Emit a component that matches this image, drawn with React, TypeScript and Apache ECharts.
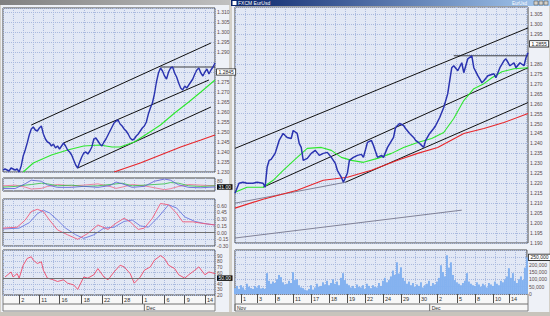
import React, { useEffect, useRef } from "react";
import * as echarts from "echarts";

// ---------- LEFT WINDOW DATA ----------
const LEFT_PRICE = [
  1.2310, 1.2315, 1.2310, 1.2305, 1.2320, 1.2315, 1.2310, 1.2315, 1.2300, 1.2330,
  1.2380, 1.2410, 1.2445, 1.2485, 1.2515, 1.2525, 1.2510, 1.2505, 1.2520, 1.2530,
  1.2490, 1.2465, 1.2450, 1.2445, 1.2430, 1.2440, 1.2420, 1.2430, 1.2415, 1.2430,
  1.2445, 1.2430, 1.2410, 1.2400, 1.2385, 1.2360, 1.2335, 1.2320, 1.2350, 1.2375,
  1.2395, 1.2400, 1.2390, 1.2405, 1.2425, 1.2465, 1.2470, 1.2455, 1.2440, 1.2430,
  1.2450, 1.2465, 1.2485, 1.2505, 1.2525, 1.2545, 1.2555, 1.2560, 1.2540, 1.2530,
  1.2515, 1.2505, 1.2490, 1.2470, 1.2460, 1.2465, 1.2480, 1.2490, 1.2505, 1.2520,
  1.2530, 1.2550, 1.2590, 1.2620, 1.2645, 1.2690, 1.2750, 1.2795, 1.2820, 1.2805,
  1.2780, 1.2765, 1.2800, 1.2820, 1.2825, 1.2795, 1.2775, 1.2745, 1.2720, 1.2710,
  1.2730, 1.2720, 1.2735, 1.2750, 1.2765, 1.2790, 1.2810, 1.2820, 1.2795, 1.2780,
  1.2800, 1.2815, 1.2790, 1.2810, 1.2825, 1.2845,
];
const LEFT_MA_FAST = [
  [10, 1.2300], [15, 1.2345], [24, 1.2385], [32, 1.2410], [40, 1.2430], [48, 1.2435],
  [54, 1.2425], [58, 1.2425], [65, 1.2450], [72, 1.2495], [78, 1.2535], [85, 1.2595],
  [92, 1.2650], [98, 1.2700], [105, 1.2760],
];
const LEFT_MA_SLOW = [[55, 1.2300], [68, 1.2345], [78, 1.2385], [88, 1.2425], [98, 1.2460], [105, 1.2485]];
const LEFT_CH_UPPER = [[14, 1.2535], [103, 1.2945]];
const LEFT_CH_MIDDLE = [[30, 1.2445], [102, 1.2760]];
const LEFT_CH_LOWER = [[37, 1.2320], [103, 1.2625]];
const LEFT_RESIST = [[78, 1.2825], [105, 1.2825]];

const OSC_IDX = [0, 6, 11, 14, 19, 22, 27, 34, 40, 47, 53, 56, 59, 64, 70, 75, 80, 83, 87, 92, 98, 105];
const OSC_BLUE = [19, 19, 56, 83, 75, 47, 28, 28, 36, 28, 42, 69, 56, 28, 36, 75, 92, 83, 47, 28, 25, 31];
const OSC_RED = [40, 45, 30, 15, 20, 35, 50, 40, 45, 55, 35, 20, 30, 50, 40, 25, 10, 18, 35, 50, 45, 40];
const OSC_GREEN = [30, 35, 45, 50, 60, 55, 40, 45, 35, 40, 50, 55, 60, 40, 45, 50, 55, 65, 60, 40, 35, 40];

const MACD_IDX = [0, 7, 11, 14, 17, 20, 23, 27, 32, 37, 42, 47, 52, 56, 60, 63, 67, 70, 74, 78, 82, 86, 89, 94, 98, 105];
const MACD_LINE = [0.10, 0.12, 0.28, 0.47, 0.52, 0.47, 0.28, 0.06, -0.05, -0.15, -0.02, 0.17, 0.07, 0.21, 0.32, 0.24, 0.07, 0.10, 0.32, 0.65, 0.62, 0.43, 0.24, 0.24, 0.21, 0.17];
const SIGNAL_IDX = [0, 8, 13, 17, 20, 23, 27, 31, 36, 40, 45, 50, 55, 60, 64, 68, 72, 77, 82, 86, 90, 95, 100, 105];
const SIGNAL_LINE = [0.08, 0.10, 0.22, 0.42, 0.50, 0.44, 0.28, 0.10, -0.05, -0.13, -0.05, 0.10, 0.12, 0.25, 0.28, 0.15, 0.12, 0.35, 0.62, 0.55, 0.35, 0.25, 0.20, 0.17];

const RSI_IDX = [1, 4, 5, 7, 8, 10, 12, 14, 15, 17, 19, 20, 22, 25, 27, 30, 32, 35, 37, 40, 42, 45, 47, 50, 52, 55, 58, 60, 63, 65, 68, 70, 73, 75, 78, 80, 82, 85, 87, 90, 92, 95, 97, 100, 102, 105];
const RSI_VALUES = [52, 61, 52, 58, 50, 73, 85, 88, 82, 76, 79, 64, 50, 47, 44, 47, 41, 38, 30, 52, 50, 56, 67, 52, 47, 61, 73, 70, 58, 41, 52, 64, 70, 82, 90, 85, 73, 67, 56, 50, 56, 64, 70, 56, 61, 58];
const RSI_LEVEL = 50;

const LEFT_TICK_IDX = [8, 18, 28, 39, 49, 59, 69, 80, 90, 100];
const LEFT_TICK_LABELS = ["2", "11", "16", "18", "22", "28", "1", "6", "9", "14"];
const LEFT_MONTHS = [{ idx: 70, label: "Dec" }];

// ---------- RIGHT WINDOW DATA ----------
const RIGHT_PRICE_IDX = [
  0, 2, 4, 6, 9, 11, 14, 15, 16, 17, 18, 20, 22, 24, 25, 26, 28, 29, 31, 32,
  33, 34, 36, 38, 40, 42, 44, 46, 48, 50, 51, 53, 54, 56, 57, 59, 61, 63, 64, 66,
  68, 69, 71, 73, 74, 76, 79, 80, 82, 84, 85, 87, 89, 90, 92, 94, 95, 97, 99, 100,
  102, 104, 105, 106, 107, 108, 109, 111, 113, 114, 116, 118, 119, 121, 123, 124, 126, 129, 130, 132,
  134, 135, 137, 139, 140, 142, 144, 145, 146,
];
const RIGHT_PRICE = [
  1.2150, 1.2200, 1.2205, 1.2200, 1.2200, 1.2205, 1.2200, 1.2180, 1.2280, 1.2315,
  1.2320, 1.2350, 1.2415, 1.2450, 1.2440, 1.2430, 1.2425, 1.2465, 1.2450, 1.2400,
  1.2380, 1.2315, 1.2325, 1.2350, 1.2365, 1.2340, 1.2350, 1.2355, 1.2330, 1.2300,
  1.2265, 1.2230, 1.2205, 1.2250, 1.2315, 1.2330, 1.2340, 1.2345, 1.2330, 1.2405,
  1.2415, 1.2390, 1.2330, 1.2340, 1.2330, 1.2380, 1.2430, 1.2480, 1.2500, 1.2490,
  1.2475, 1.2450, 1.2430, 1.2415, 1.2400, 1.2380, 1.2415, 1.2450, 1.2475, 1.2490,
  1.2530, 1.2580, 1.2615, 1.2650, 1.2715, 1.2780, 1.2790, 1.2765, 1.2805, 1.2755,
  1.2825, 1.2840, 1.2780, 1.2740, 1.2705, 1.2715, 1.2740, 1.2750, 1.2730, 1.2780,
  1.2815, 1.2825, 1.2790, 1.2805, 1.2780, 1.2805, 1.2790, 1.2830, 1.2855,
];
const RIGHT_MA_FAST = [
  [0, 1.2155], [6, 1.2180], [14, 1.2180], [19, 1.2215], [24, 1.2265], [31, 1.2330], [36, 1.2375],
  [43, 1.2380], [48, 1.2365], [53, 1.2330], [58, 1.2315], [64, 1.2305], [71, 1.2325], [78, 1.2350],
  [84, 1.2380], [91, 1.2405], [98, 1.2425], [104, 1.2455], [109, 1.2525], [114, 1.2615], [119, 1.2675],
  [124, 1.2700], [128, 1.2730], [133, 1.2760], [139, 1.2775], [146, 1.2780],
];
const RIGHT_MA_SLOW = [
  [0, 1.2075], [14, 1.2120], [31, 1.2165], [44, 1.2215], [56, 1.2230], [68, 1.2265], [81, 1.2315],
  [91, 1.2350], [101, 1.2380], [114, 1.2450], [124, 1.2475], [134, 1.2505], [146, 1.2550],
];
const RIGHT_CH_UPPER = [[0, 1.2375], [146, 1.2980]];
const RIGHT_CH_MIDDLE = [[14, 1.2180], [146, 1.2780]];
const RIGHT_CH_LOWER = [[55, 1.2205], [146, 1.2605]];
const RIGHT_RESIST = [[109, 1.2840], [146, 1.2840]];
const RIGHT_GRAY_LONG = [[0, 1.1925], [113, 1.2065]];
const RIGHT_GRAY_SHORT = [[0, 1.2100], [55, 1.2205]];

// volume in thousands
const VOLUME = [
  40, 55, 35, 60, 45, 30, 70, 50, 40, 35, 55, 45, 60, 38, 42,
  35, 142, 90, 70, 85, 75, 100, 130, 115, 80, 65, 70, 90, 75, 149, 95, 100, 60, 45, 40,
  30, 25, 35, 60, 30, 45, 70, 50, 55, 80, 65, 90, 60, 75, 100, 70, 85, 60, 110, 142,
  95, 70, 60, 45, 55, 40, 65, 50, 45, 60, 35, 70, 55, 40, 60, 50, 45, 75, 55, 90,
  110, 80, 95, 120, 160, 130, 216, 140, 182, 110, 90, 70, 85, 60, 75, 50, 65, 55, 80, 45,
  60, 70, 90, 55, 75, 65, 85, 110, 196, 150, 120, 264, 180, 216, 130, 95, 80, 70, 60, 75,
  90, 142, 85, 70, 60, 55, 80, 65, 50, 70, 60, 45, 75, 65, 55, 85, 70, 60, 90, 80,
  100, 120, 176, 110, 142, 90, 75, 100, 120, 95, 180, 250,
];

const RIGHT_TICK_IDX = [3, 11, 20, 29, 38, 47, 56, 65, 74, 83, 92, 101, 111, 120, 129, 137];
const RIGHT_TICK_LABELS = ["1", "3", "8", "11", "17", "18", "19", "22", "24", "29", "30", "2", "5", "8", "10", "14"];
const RIGHT_MONTHS = [{ idx: 0, label: "Nov" }, { idx: 97, label: "Dec" }];

const FONT = "Liberation Sans";
const GRID_BG = "#e2e8f5";
const LBL = "#5a4848";

const pairs = (idx: number[], vals: number[]) => idx.map((i, k) => [i, vals[k]]);

export default function App() {
  const ref = useRef<HTMLDivElement>(null);
  useEffect(() => {
    const el = ref.current!;
    const chart = echarts.init(el, null, { renderer: "svg" });
    const NL = LEFT_PRICE.length;
    const NR = VOLUME.length;
    const catL = Array.from({ length: NL }, (_, i) => "L" + i);
    const catR = Array.from({ length: NR }, (_, i) => "R" + i);
    const mapL: Record<number, string> = {};
    LEFT_TICK_IDX.forEach((i, k) => (mapL[i] = LEFT_TICK_LABELS[k]));
    const mapR: Record<number, string> = {};
    RIGHT_TICK_IDX.forEach((i, k) => (mapR[i] = RIGHT_TICK_LABELS[k]));

    const lastL = LEFT_PRICE[NL - 1];
    const lastR = RIGHT_PRICE[RIGHT_PRICE.length - 1];
    const lastOsc = OSC_BLUE[OSC_BLUE.length - 1];
    const lastVol = VOLUME[NR - 1];

    const split = (color = "#a9b9de") => ({ show: true, lineStyle: { color, type: "dotted" as const, width: 1 } });

    const plainX = (gridIndex: number, data: string[]) => ({
      type: "category" as const, gridIndex, data, boundaryGap: false,
      axisLine: { show: false }, axisTick: { show: false }, axisLabel: { show: false },
      splitLine: { ...split(), interval: 4 },
    });
    const dateX = (gridIndex: number, data: string[], map: Record<number, string>) => ({
      type: "category" as const, gridIndex, data, boundaryGap: false,
      axisLine: { show: false },
      axisTick: { show: true, interval: (i: number) => map[i] !== undefined, length: 9, lineStyle: { color: "#505050" } },
      axisLabel: {
        show: true, interval: (i: number) => map[i] !== undefined,
        formatter: (_v: string, i: number) => map[i] ?? "",
        fontSize: 5.5, fontFamily: FONT, color: "#303030", align: "left" as const, padding: [0, 0, 0, 2], margin: 2,
      },
      splitLine: { ...split(), interval: 4 },
    });
    const yAx = (gridIndex: number, min: number, max: number, interval: number, fmt: (v: number) => string, extra: any = {}) => ({
      type: "value" as const, gridIndex, position: "right" as const, min, max, interval,
      axisLine: { show: false }, axisTick: { show: false },
      axisLabel: { fontSize: 5, fontFamily: FONT, color: LBL, margin: 2, showMaxLabel: false, formatter: fmt },
      splitLine: split(),
      ...extra,
    });

    const boxLabel = (value: number, text: string, dark: boolean) => ({
      symbol: "none", silent: true,
      lineStyle: { color: "rgba(0,0,0,0)", width: 0 },
      data: [{ yAxis: value }],
      label: {
        show: true, position: "end", distance: 2, formatter: text, fontSize: 5, fontFamily: FONT,
        color: dark ? "#ffffff" : "#202020", backgroundColor: dark ? "#101010" : "#ffffff",
        borderColor: "#202020", borderWidth: dark ? 0 : 0.8, padding: [0.5, 1.5, 0, 1.5],
      },
    });

    const line = (name: string, data: any[], x: number, y: number, color: string, width = 1, extra: any = {}) => ({
      name, type: "line" as const, xAxisIndex: x, yAxisIndex: y, data, symbol: "none",
      lineStyle: { color, width }, itemStyle: { color }, silent: true, z: 3, ...extra,
    });

    const option: any = {
      animation: false,
      backgroundColor: "#d4d0c8",
      textStyle: { fontFamily: FONT },
      grid: [
        { left: 3, top: 8, width: 212, height: 164 },
        { left: 3, top: 178, width: 212, height: 13 },
        { left: 3, top: 199, width: 212, height: 47 },
        { left: 3, top: 250, width: 212, height: 45 },
        { left: 235, top: 7, width: 293, height: 236 },
        { left: 235, top: 250, width: 293, height: 44 },
      ].map((g) => ({ ...g, show: true, backgroundColor: GRID_BG, borderColor: "#4a4a4a", borderWidth: 1 })),
      xAxis: [
        plainX(0, catL), plainX(1, catL), plainX(2, catL), dateX(3, catL, mapL),
        plainX(4, catR), dateX(5, catR, mapR),
      ],
      yAxis: [
        yAx(0, 1.23, 1.312, 0.005, (v) => (Math.abs(v - lastL) < 0.0051 ? "" : v.toFixed(3))),
        yAx(1, 0, 100, 20, (v) => (v === 80 ? "80" : ""), { splitLine: { show: false } }),
        yAx(2, -0.3, 0.75, 0.15, (v) => v.toFixed(2)),
        yAx(3, 20, 100, 10, (v) => (Math.abs(v - RSI_LEVEL) < 5 ? "" : String(Math.round(v)))),
        yAx(4, 1.19, 1.3085, 0.005, (v) => (Math.abs(v - lastR) < 0.0051 ? "" : v.toFixed(3))),
        yAx(5, 0, 300, 50, (v) => (Math.abs(v - lastVol) < 30 ? "" : v === 0 ? "0" : v + ",000")),
      ],
      series: [
        // left price pane
        line("Upper channel L", LEFT_CH_UPPER, 0, 0, "#111111", 1),
        line("Middle channel L", LEFT_CH_MIDDLE, 0, 0, "#111111", 1),
        line("Lower channel L", LEFT_CH_LOWER, 0, 0, "#111111", 1),
        line("Resistance L", LEFT_RESIST, 0, 0, "#111111", 0.8),
        line("MA slow L", LEFT_MA_SLOW, 0, 0, "#e8262a", 1.1),
        line("MA fast L", LEFT_MA_FAST, 0, 0, "#2ee82e", 1.1),
        line("Price L", LEFT_PRICE, 0, 0, "#2a33b0", 1.4, { z: 4, markLine: boxLabel(lastL, lastL.toFixed(4), false) }),
        // oscillator
        line("Osc red", pairs(OSC_IDX, OSC_RED), 1, 1, "#f06a8a", 0.8),
        line("Osc green", pairs(OSC_IDX, OSC_GREEN), 1, 1, "#30c040", 0.8),
        line("Osc blue", pairs(OSC_IDX, OSC_BLUE), 1, 1, "#5a5ad8", 0.8, { markLine: boxLabel(lastOsc, lastOsc.toFixed(2), true) }),
        // MACD
        line("Signal", pairs(SIGNAL_IDX, SIGNAL_LINE), 2, 2, "#6a78e0", 0.9, {
          markLine: {
            symbol: "none", silent: true, data: [{ yAxis: 0 }],
            lineStyle: { color: "#707070", width: 1, type: "solid" }, label: { show: false },
          },
        }),
        line("MACD", pairs(MACD_IDX, MACD_LINE), 2, 2, "#f05a7a", 0.9),
        // RSI
        line("RSI", pairs(RSI_IDX, RSI_VALUES), 3, 3, "#ee4a6a", 0.9, {
          markLine: {
            symbol: "none", silent: true, data: [{ yAxis: RSI_LEVEL }],
            lineStyle: { color: "#707070", width: 1, type: "solid" },
            label: {
              show: true, position: "end", distance: 2, formatter: RSI_LEVEL.toFixed(2), fontSize: 5, fontFamily: FONT,
              color: "#fff", backgroundColor: "#101010", padding: [0.5, 1.5, 0, 1.5],
            },
          },
        }),
        // right price pane
        line("Gray long", RIGHT_GRAY_LONG, 4, 4, "#6a6a80", 0.8),
        line("Gray short", RIGHT_GRAY_SHORT, 4, 4, "#6a6a80", 0.8),
        line("Upper channel R", RIGHT_CH_UPPER, 4, 4, "#111111", 1),
        line("Middle channel R", RIGHT_CH_MIDDLE, 4, 4, "#111111", 1),
        line("Lower channel R", RIGHT_CH_LOWER, 4, 4, "#111111", 1),
        line("Resistance R", RIGHT_RESIST, 4, 4, "#111111", 0.8),
        line("MA slow R", RIGHT_MA_SLOW, 4, 4, "#e8262a", 1.1),
        line("MA fast R", RIGHT_MA_FAST, 4, 4, "#2ee82e", 1.1),
        line("Price R", pairs(RIGHT_PRICE_IDX, RIGHT_PRICE), 4, 4, "#2a33b0", 1.5, { z: 4, markLine: boxLabel(lastR, lastR.toFixed(4), false) }),
        // volume
        {
          name: "Volume", type: "bar", xAxisIndex: 5, yAxisIndex: 5, data: VOLUME,
          barCategoryGap: "0%", barWidth: 2, silent: true,
          itemStyle: { color: "#84b2f0" },
          markLine: boxLabel(lastVol, lastVol + ",000", false),
        },
      ],
    };

    const xL = (i: number) => 3 + (i * 212) / (NL - 1);
    const xR = (i: number) => 235 + (i * 293) / (NR - 1);
    const bg = (shape: any, fill: any) => ({ type: "rect", shape, style: { fill }, z: -100, silent: true });
    const txt = (x: number, y: number, text: string, fill: string, size = 5.5, z = 10) => ({
      type: "text", x, y, z, silent: true, style: { text, fill, fontSize: size, fontFamily: FONT },
    });
    const ln = (x1: number, y1: number, x2: number, y2: number, stroke = "#707070") => ({
      type: "line", z: 5, silent: true, shape: { x1, y1, x2, y2 }, style: { stroke, lineWidth: 1 },
    });
    const btn = (x: number) => ({ type: "rect", z: 10, silent: true, shape: { x, y: 1, width: 4, height: 4 }, style: { fill: "#d4d0c8", stroke: "#404040", lineWidth: 0.5 } });

    option.graphic = [
      bg({ x: 0, y: 0, width: 230, height: 316 }, "#d4d0c8"),
      bg({ x: 0, y: 0, width: 230, height: 5 }, new echarts.graphic.LinearGradient(0, 0, 1, 0, [
        { offset: 0, color: "#808080" }, { offset: 1, color: "#c0c0c0" },
      ])),
      bg({ x: 1, y: 5, width: 228, height: 307 }, "#eef1f7"),
      bg({ x: 231, y: 0, width: 319, height: 316 }, "#d4d0c8"),
      bg({ x: 231, y: 0, width: 319, height: 6 }, new echarts.graphic.LinearGradient(0, 0, 1, 0, [
        { offset: 0, color: "#0a246a" }, { offset: 1, color: "#a6caf0" },
      ])),
      bg({ x: 232, y: 6, width: 317, height: 306 }, "#eef1f7"),
      txt(238, 0.5, "FXCM EurUsd", "#ffffff", 5),
      txt(512, 0.5, "EurUsd", "#ffffff", 4.5),
      btn(534), btn(539), btn(544),
      { type: "rect", z: 10, silent: true, shape: { x: 232.5, y: 1, width: 4, height: 4 }, style: { fill: "#ffffff" } },
      { type: "rect", z: -50, silent: true, shape: { x: 3, y: 295, width: 212, height: 16 }, style: { fill: "#f7f7f7", stroke: "#808080", lineWidth: 1 } },
      ln(3, 304, 215, 304),
      { type: "rect", z: -50, silent: true, shape: { x: 235, y: 294, width: 293, height: 17 }, style: { fill: "#f7f7f7", stroke: "#808080", lineWidth: 1 } },
      ln(235, 304, 528, 304),
      ...LEFT_MONTHS.flatMap((m) => [ln(xL(m.idx), 304, xL(m.idx), 311), txt(xL(m.idx) + 2, 305, m.label, "#303030", 5)]),
      ...RIGHT_MONTHS.flatMap((m) => [ln(xR(m.idx), 304, xR(m.idx), 311), txt(xR(m.idx) + 2, 305, m.label, "#303030", 5)]),
      bg({ x: 0, y: 312, width: 550, height: 4 }, "#c8c4bc"),
    ];

    chart.setOption(option);
    return () => chart.dispose();
  }, []);
  return <div ref={ref} style={{ position: "fixed", left: 0, top: 0, width: 550, height: 316 }} />;
}
